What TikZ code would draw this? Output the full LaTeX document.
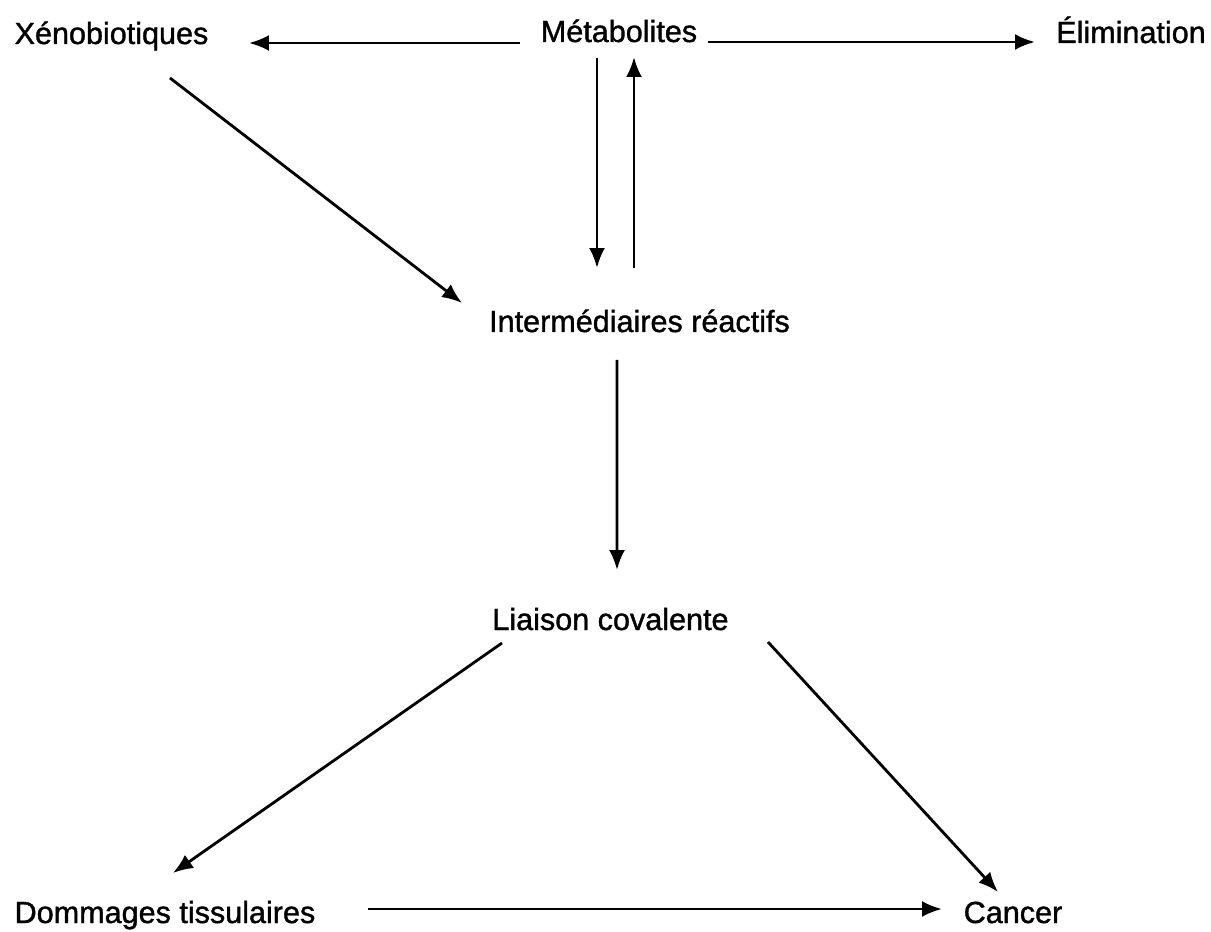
\documentclass[tikz,border=0pt]{standalone}
\usepackage{fontspec}
\setmainfont{Liberation Sans}
\newfontfamily\heavysans{Liberation Sans}[FakeBold=1.2]
\usetikzlibrary{arrows.meta}

\begin{document}
\begin{tikzpicture}[x=0.02cm, y=-0.02cm,
    >={Latex[length=0.4cm,width=0.32cm]}, line width=1.6pt,
    main node/.style={anchor=base, inner sep=0pt, font=\heavysans\fontsize{17.4}{20}\selectfont}]

      \useasboundingbox (0,0) rectangle (1211,932);

      %% top row
      \node (Xeno) [main node] at (111.5,44) {Xénobiotiques};
      \node (Metab) [main node] at (619,42) {Métabolites};
      \node (Elim) [main node] at (1131,43) {Élimination};

      \node (Inter) [main node] at (639.5,332) {Intermédiaires réactifs};
      \node (Liaison) [main node] at (610.5,630) {Liaison covalente};

      %% bottom row
      \node (Dommages) [main node] at (165,923) {Dommages tissulaires};
      \node (Cancer) [main node] at (1013,923) {Cancer};

      \draw[->] ([shift={(-99,1)}]Metab.base) -- ([shift={(137.5,-1)}]Xeno.base);
      \draw[->] ([shift={(89,0)}]Metab.base) -- ([shift={(-96,-1)}]Elim.base);

      \draw[->] ([shift={(-22,16)}]Metab.base) -- ([shift={(-42.5,-64)}]Inter.base);
      \draw[->] ([shift={(-5.5,-64)}]Inter.base) -- ([shift={(15,15)}]Metab.base);

      \draw[->] ([shift={(58.5,34)}]Xeno.base) -- ([shift={(-177.5,-29)}]Inter.base);
      \draw[->] ([shift={(-22.5,28)}]Inter.base) -- ([shift={(6.5,-60)}]Liaison.base);

      \draw[->] ([shift={(-108.5,13)}]Liaison.base) -- ([shift={(8,-50)}]Dommages.base);
      \draw[->] ([shift={(157.5,12)}]Liaison.base) -- ([shift={(-15,-31)}]Cancer.base);
      \draw[->] ([shift={(203,-14)}]Dommages.base) -- ([shift={(-71,-14)}]Cancer.base);

\end{tikzpicture}
\end{document}
